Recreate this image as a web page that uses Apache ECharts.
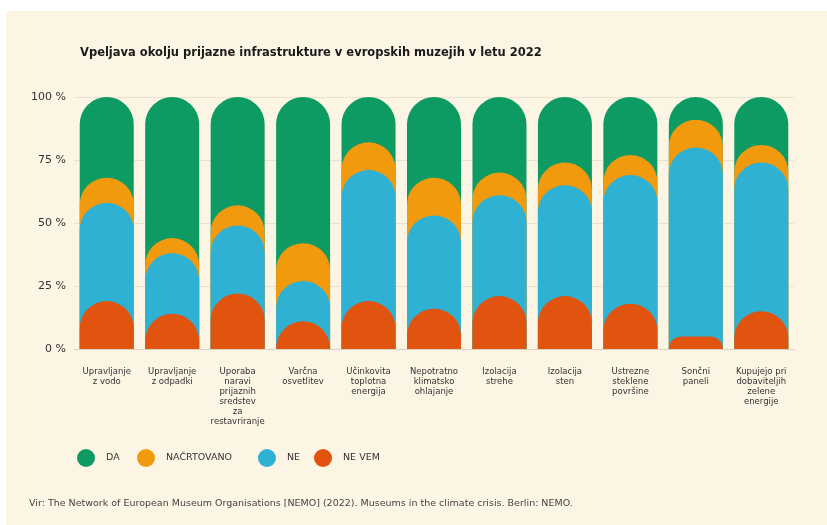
<!DOCTYPE html>
<html>
<head>
<meta charset="utf-8">
<script src="https://cdn.jsdelivr.net/npm/echarts@6/dist/echarts.min.js"></script>
<style>
html,body{margin:0;padding:0;background:#ffffff;}
#c{width:827px;height:525px;}
</style>
</head>
<body>
<div id="c"></div>
<script>
const categories = [
  "Upravljanje\nz vodo",
  "Upravljanje\nz odpadki",
  "Uporaba\nnaravi\nprijaznih\nsredstev\nza\nrestavriranje",
  "Varčna\nosvetlitev",
  "Učinkovita\ntoplotna\nenergija",
  "Nepotratno\nklimatsko\nohlajanje",
  "Izolacija\nstrehe",
  "Izolacija\nsten",
  "Ustrezne\nsteklene\npovršine",
  "Sončni\npaneli",
  "Kupujejo pri\ndobaviteljih\nzelene\nenergije"
];
const seriesNames = ["DA", "NAČRTOVANO", "NE", "NE VEM"];
const neVem      = [19, 14, 22, 11, 19, 16, 21, 21, 18, 5, 15];
const ne         = [39, 24, 27, 16, 52, 37, 40, 44, 51, 75, 59];
const nacrtovano = [10,  6,  8, 15, 11, 15,  9,  9,  8, 11,  7];
const da         = [32, 56, 43, 58, 18, 32, 30, 26, 23,  9, 19];
const yTicks = [0, 25, 50, 75, 100];

const colors = ["#0e9b63", "#f29a0e", "#2eb1d3", "#e1540f"];

// cumulative tops (overlapping rounded bars)
const topRed = neVem.slice();
const topBlue = neVem.map((v, i) => v + ne[i]);
const topOrange = topBlue.map((v, i) => v + nacrtovano[i]);
const topGreen = topOrange.map((v, i) => v + da[i]);
const tops = [topGreen, topOrange, topBlue, topRed];

const legendLefts = [77, 137, 258, 314];

const FONT = "DejaVu Sans";
const chart = echarts.init(document.getElementById('c'));
chart.setOption({
  animation: false,
  textStyle: { fontFamily: FONT },
  graphic: [
    { type: 'rect', left: 6, top: 11, z: -10, silent: true,
      shape: { width: 821, height: 514 }, style: { fill: '#fcf5e4' } },
    { type: 'text', left: 29, top: 499,
      style: { text: 'Vir: The Network of European Museum Organisations [NEMO] (2022). Museums in the climate crisis. Berlin: NEMO.',
               fill: '#444', font: '9.5px "' + FONT + '"' } }
  ],
  title: {
    text: 'Vpeljava okolju prijazne infrastrukture v evropskih muzejih v letu 2022',
    left: 75, top: 42,
    textStyle: { fontSize: 11.5, fontWeight: 'bold', color: '#1a1a1a', fontFamily: FONT }
  },
  legend: seriesNames.map((name, k) => ({
    left: legendLefts[k], top: 449, padding: 0,
    icon: 'circle', itemWidth: 18, itemHeight: 18,
    textStyle: { fontSize: 9.5, color: '#333', padding: [0, 0, 0, 6] },
    data: [name]
  })),
  grid: { left: 74, right: 33, top: 97, height: 252 },
  xAxis: {
    type: 'category', data: categories,
    axisLine: { lineStyle: { color: '#d9d2c2' } },
    axisTick: { show: false },
    axisLabel: { interval: 0, fontSize: 8.5, lineHeight: 10, color: '#333', margin: 18 }
  },
  yAxis: {
    type: 'value', min: 0, max: 100, interval: 25,
    axisLine: { show: false }, axisTick: { show: false },
    splitLine: { lineStyle: { color: '#e9e2d2' } },
    axisLabel: { formatter: v => yTicks.includes(v) ? v + ' %' : '', fontSize: 11, color: '#333', margin: 8 }
  },
  series: seriesNames.map((name, k) => ({
    name, type: 'bar', data: tops[k],
    barWidth: 54, barGap: '-100%',
    itemStyle: { color: colors[k], borderRadius: [27, 27, 0, 0] },
    emphasis: { disabled: true }
  }))
});
</script>
</body>
</html>
